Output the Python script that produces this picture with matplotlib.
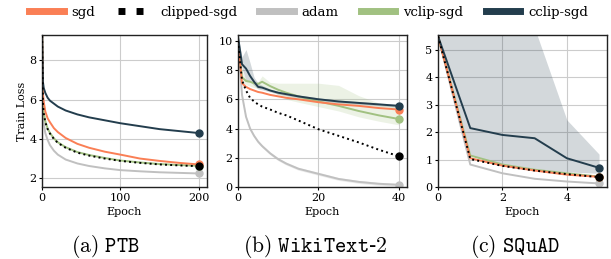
import matplotlib.pyplot as plt
from matplotlib.lines import Line2D

plt.rcParams['font.family'] = 'DejaVu Serif'
plt.rcParams['mathtext.fontset'] = 'cm'

c_sgd = '#fa7f55'
c_clip = 'black'
c_adam = '#c0c0c0'
c_vclip = '#a1c181'
c_cclip = '#233d4d'

# PTB
ptb_ep = [0, 1, 2, 4, 7, 10, 15, 20, 30, 45, 60, 80, 100, 125, 150, 175, 200]
ptb_sgd = [9.25, 6.3, 5.9, 5.4, 5.05, 4.85, 4.55, 4.35, 4.05, 3.75, 3.55, 3.35, 3.2, 3.0, 2.88, 2.78, 2.7]
ptb_clipped = [9.25, 5.8, 5.3, 4.85, 4.5, 4.27, 4.0, 3.8, 3.55, 3.3, 3.15, 3.0, 2.88, 2.78, 2.7, 2.65, 2.61]
ptb_adam = [9.25, 5.3, 4.8, 4.3, 3.95, 3.68, 3.4, 3.2, 2.95, 2.75, 2.62, 2.5, 2.41, 2.35, 2.3, 2.27, 2.24]
ptb_vclip = [9.25, 5.85, 5.35, 4.9, 4.53, 4.3, 4.03, 3.83, 3.58, 3.33, 3.18, 3.03, 2.9, 2.8, 2.72, 2.67, 2.63]
ptb_cclip = [9.25, 6.9, 6.6, 6.35, 6.1, 5.95, 5.8, 5.65, 5.45, 5.25, 5.1, 4.95, 4.8, 4.65, 4.5, 4.4, 4.3]

# WikiText-2
wt_ep = [0, 1, 2, 3, 4, 5, 6, 8, 10, 12, 15, 20, 25, 30, 35, 40]
wt_sgd = [10.0, 7.1, 6.85, 6.7, 6.6, 6.5, 6.45, 6.3, 6.2, 6.1, 6.0, 5.8, 5.65, 5.55, 5.4, 5.3]
wt_clipped = [10.0, 7.3, 6.6, 6.1, 5.85, 5.65, 5.5, 5.3, 5.07, 4.9, 4.55, 3.95, 3.5, 3.05, 2.55, 2.1]
wt_adam = [10.0, 6.3, 4.8, 4.0, 3.5, 3.1, 2.8, 2.3, 1.9, 1.6, 1.25, 0.9, 0.55, 0.35, 0.22, 0.15]
wt_vclip = [9.9, 7.5, 7.25, 7.2, 7.1, 7.05, 7.2, 6.9, 6.65, 6.45, 6.2, 5.85, 5.55, 5.2, 4.9, 4.65]
wt_vclip_lo = [9.8, 7.1, 7.0, 6.9, 6.8, 6.75, 6.8, 6.6, 6.3, 6.0, 5.8, 5.5, 5.2, 4.8, 4.5, 4.25]
wt_vclip_hi = [10.0, 7.9, 7.4, 7.2, 7.15, 7.2, 7.6, 7.15, 7.1, 7.1, 7.1, 7.1, 6.95, 6.25, 5.75, 5.5]
wt_cclip = [10.3, 8.4, 8.1, 7.6, 7.2, 6.85, 6.8, 6.6, 6.45, 6.35, 6.2, 6.0, 5.85, 5.75, 5.65, 5.55]
wt_cclip_lo = [10.3, 8.1, 7.3, 7.2, 6.95, 6.7, 6.65, 6.5, 6.35, 6.25, 6.1, 5.9, 5.75, 5.65, 5.55, 5.45]
wt_cclip_hi = [10.3, 8.9, 9.4, 8.5, 7.5, 7.1, 6.95, 6.7, 6.55, 6.45, 6.3, 6.1, 5.95, 5.85, 5.75, 5.65]

# SQuAD
sq_ep = [0, 1, 2, 3, 4, 5]
sq_sgd = [5.5, 1.05, 0.78, 0.6, 0.45, 0.37]
sq_clipped = [5.5, 1.02, 0.77, 0.6, 0.47, 0.36]
sq_adam = [5.5, 0.82, 0.5, 0.3, 0.2, 0.13]
sq_vclip = [5.5, 1.15, 0.82, 0.63, 0.5, 0.38]
sq_cclip = [5.5, 2.15, 1.9, 1.78, 1.05, 0.7]
sq_cclip_lo = [5.45, 1.15, 0.85, 0.65, 0.55, 0.5]
sq_cclip_hi = [6.0, 7.5, 7.0, 5.8, 2.45, 1.2]

fig = plt.figure(figsize=(6.11, 2.59), dpi=100)
ax1 = fig.add_axes([0.069, 0.278, 0.269, 0.587])
ax2 = fig.add_axes([0.3895, 0.278, 0.2766, 0.587])
ax3 = fig.add_axes([0.717, 0.278, 0.2766, 0.587])


def curve(ax, x, y, color, ls='-', z=2):
    ax.plot(x, y, color=color, lw=1.4, ls=ls, zorder=z)
    ax.plot(x[-1], y[-1], 'o', color=color, ms=5, zorder=z)


def style(ax):
    ax.grid(True, color='#cccccc', lw=0.8)
    ax.set_axisbelow(True)
    ax.tick_params(labelsize=8, length=2.5, width=0.8, pad=1.5)
    for s in ax.spines.values():
        s.set_linewidth(1.0)
        s.set_color('#222222')
    ax.set_xlabel('Epoch', fontsize=8, labelpad=3)


curve(ax1, ptb_ep, ptb_adam, c_adam)
curve(ax1, ptb_ep, ptb_vclip, c_vclip)
curve(ax1, ptb_ep, ptb_sgd, c_sgd)
curve(ax1, ptb_ep, ptb_cclip, c_cclip)
curve(ax1, ptb_ep, ptb_clipped, c_clip, ls=':', z=3)
ax1.set_xlim(0, 210)
ax1.set_ylim(1.55, 9.3)
ax1.set_xticks([0, 100, 200])
ax1.set_yticks([2, 4, 6, 8])
ax1.set_ylabel('Train Loss', fontsize=8, labelpad=2)
style(ax1)

ax2.fill_between(wt_ep, [v - 0.1 for v in wt_adam], [v + 0.1 for v in wt_adam], color=c_adam, alpha=0.3, lw=0)
ax2.fill_between(wt_ep, wt_vclip_lo, wt_vclip_hi, color=c_vclip, alpha=0.2, lw=0)
ax2.fill_between(wt_ep, wt_cclip_lo, wt_cclip_hi, color=c_cclip, alpha=0.2, lw=0)
curve(ax2, wt_ep, wt_adam, c_adam)
curve(ax2, wt_ep, wt_vclip, c_vclip)
curve(ax2, wt_ep, wt_sgd, c_sgd)
curve(ax2, wt_ep, wt_cclip, c_cclip)
curve(ax2, wt_ep, wt_clipped, c_clip, ls=':', z=3)
ax2.set_xlim(0, 42)
ax2.set_ylim(0, 10.4)
ax2.set_xticks([0, 20, 40])
ax2.set_yticks([0, 2, 4, 6, 8, 10])
style(ax2)

ax3.fill_between(sq_ep, sq_cclip_lo, sq_cclip_hi, color=c_cclip, alpha=0.2, lw=0)
curve(ax3, sq_ep, sq_adam, c_adam)
curve(ax3, sq_ep, sq_vclip, c_vclip)
curve(ax3, sq_ep, sq_sgd, c_sgd)
curve(ax3, sq_ep, sq_cclip, c_cclip)
curve(ax3, sq_ep, sq_clipped, c_clip, ls=':', z=3)
ax3.set_xlim(0, 5.25)
ax3.set_ylim(0, 5.55)
ax3.set_xticks([0, 2, 4])
ax3.set_yticks([0, 1, 2, 3, 4, 5])
style(ax3)

handles = [
    Line2D([], [], color=c_sgd, lw=5),
    Line2D([], [], color=c_clip, lw=5, ls=(0, (1, 1.6))),
    Line2D([], [], color=c_adam, lw=5),
    Line2D([], [], color=c_vclip, lw=5),
    Line2D([], [], color=c_cclip, lw=5),
]
labels = ['sgd', 'clipped-sgd', 'adam', 'vclip-sgd', 'cclip-sgd']
fig.legend(handles, labels, loc='center', bbox_to_anchor=(0.505, 0.952), ncol=5,
           frameon=False, fontsize=9.5, handlelength=2.6, columnspacing=1.7,
           handletextpad=0.6, borderpad=0.1, borderaxespad=0)

fig.text(0.172, 0.05, r'$\mathrm{(a)}\ \mathtt{PTB}$', ha='center', va='center', fontsize=15.5)
fig.text(0.516, 0.05, r'$\mathrm{(b)}\ \mathtt{WikiText}$-$\mathtt{2}$', ha='center', va='center', fontsize=15.5)
fig.text(0.843, 0.05, r'$\mathrm{(c)}\ \mathtt{SQuAD}$', ha='center', va='center', fontsize=15.5)

fig.savefig('out.png', dpi=100)
